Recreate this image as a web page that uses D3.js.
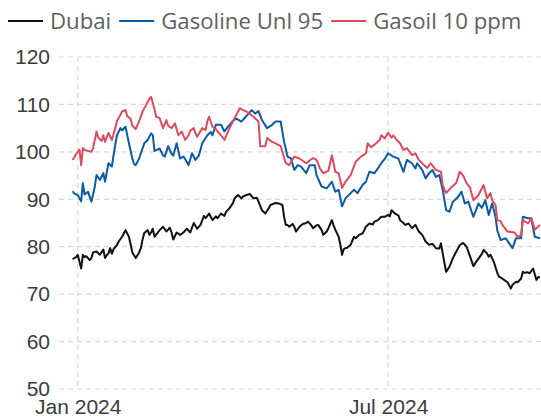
<!DOCTYPE html>
<html>
<head>
<meta charset="utf-8">
<script src="https://cdnjs.cloudflare.com/ajax/libs/d3/7.8.5/d3.min.js"></script>
<style>
  body { margin: 0; background: #fff; }
  svg { display: block; font-family: "Open Sans", "Noto Sans", sans-serif; }
</style>
</head>
<body>
<div class="chart"></div>
<script>

// series data: [date, US$/bbl]
var dubai = [
  ["2023-12-29", 77.4], ["2023-12-31", 77.8], ["2024-01-01", 78.3], ["2024-01-03", 75.4], ["2024-01-04", 78.3],
  ["2024-01-05", 77.8], ["2024-01-06", 78.0], ["2024-01-08", 77.2], ["2024-01-09", 77.6], ["2024-01-10", 78.8],
  ["2024-01-12", 79.0], ["2024-01-14", 78.3], ["2024-01-16", 79.4], ["2024-01-17", 77.6], ["2024-01-18", 78.2],
  ["2024-01-19", 78.6], ["2024-01-20", 79.7], ["2024-01-21", 78.5], ["2024-01-22", 79.5], ["2024-01-24", 80.4],
  ["2024-01-25", 81.1], ["2024-01-27", 82.1], ["2024-01-28", 82.8], ["2024-01-29", 83.5], ["2024-01-31", 82.1],
  ["2024-02-01", 80.5], ["2024-02-02", 78.8], ["2024-02-04", 77.6], ["2024-02-06", 78.8], ["2024-02-07", 79.7],
  ["2024-02-08", 81.5], ["2024-02-09", 82.9], ["2024-02-11", 83.5], ["2024-02-12", 82.5], ["2024-02-13", 83.0],
  ["2024-02-14", 83.8], ["2024-02-15", 82.1], ["2024-02-17", 83.0], ["2024-02-18", 83.5], ["2024-02-20", 84.2],
  ["2024-02-22", 83.2], ["2024-02-24", 84.0], ["2024-02-25", 83.0], ["2024-02-26", 81.5], ["2024-02-28", 83.0],
  ["2024-03-01", 82.5], ["2024-03-03", 83.0], ["2024-03-05", 83.8], ["2024-03-07", 83.0], ["2024-03-09", 85.0],
  ["2024-03-11", 83.8], ["2024-03-13", 84.6], ["2024-03-15", 86.5], ["2024-03-16", 86.0], ["2024-03-18", 87.0],
  ["2024-03-20", 85.6], ["2024-03-22", 86.4], ["2024-03-23", 86.0], ["2024-03-25", 87.0], ["2024-03-27", 86.5],
  ["2024-03-28", 87.4], ["2024-03-30", 88.1], ["2024-04-01", 89.2], ["2024-04-02", 90.2], ["2024-04-04", 90.9],
  ["2024-04-06", 90.2], ["2024-04-07", 90.6], ["2024-04-09", 90.9], ["2024-04-11", 91.1], ["2024-04-13", 90.2],
  ["2024-04-15", 90.3], ["2024-04-16", 89.5], ["2024-04-18", 87.7], ["2024-04-20", 87.0], ["2024-04-22", 88.1],
  ["2024-04-23", 88.8], ["2024-04-25", 89.1], ["2024-04-26", 89.2], ["2024-04-28", 89.1], ["2024-04-30", 88.8],
  ["2024-05-01", 86.3], ["2024-05-02", 84.6], ["2024-05-03", 84.6], ["2024-05-04", 84.2], ["2024-05-06", 84.8],
  ["2024-05-07", 84.2], ["2024-05-08", 83.2], ["2024-05-10", 84.2], ["2024-05-12", 84.8], ["2024-05-14", 85.0],
  ["2024-05-15", 85.3], ["2024-05-17", 84.5], ["2024-05-18", 83.9], ["2024-05-20", 84.5], ["2024-05-21", 84.6],
  ["2024-05-23", 83.5], ["2024-05-24", 82.5], ["2024-05-26", 83.2], ["2024-05-27", 83.9], ["2024-05-29", 85.6],
  ["2024-05-30", 84.5], ["2024-05-31", 83.6], ["2024-06-02", 82.1], ["2024-06-03", 80.4], ["2024-06-04", 78.3],
  ["2024-06-05", 79.5], ["2024-06-06", 79.7], ["2024-06-07", 79.8], ["2024-06-09", 80.4], ["2024-06-11", 82.1],
  ["2024-06-12", 81.8], ["2024-06-14", 82.5], ["2024-06-16", 82.8], ["2024-06-17", 83.5], ["2024-06-18", 84.2],
  ["2024-06-20", 84.9], ["2024-06-22", 84.7], ["2024-06-23", 85.3], ["2024-06-25", 85.6], ["2024-06-27", 86.3],
  ["2024-06-29", 86.3], ["2024-07-01", 86.7], ["2024-07-02", 86.4], ["2024-07-03", 87.7], ["2024-07-05", 87.0],
  ["2024-07-07", 86.6], ["2024-07-08", 85.6], ["2024-07-10", 85.0], ["2024-07-11", 84.6], ["2024-07-13", 84.9],
  ["2024-07-15", 83.9], ["2024-07-17", 84.6], ["2024-07-19", 83.2], ["2024-07-21", 82.5], ["2024-07-23", 81.1],
  ["2024-07-25", 80.4], ["2024-07-27", 80.6], ["2024-07-29", 79.7], ["2024-07-31", 79.6], ["2024-08-01", 80.7],
  ["2024-08-02", 78.6], ["2024-08-04", 74.7], ["2024-08-06", 75.8], ["2024-08-08", 77.6], ["2024-08-10", 79.0],
  ["2024-08-12", 80.3], ["2024-08-14", 80.8], ["2024-08-16", 80.0], ["2024-08-18", 78.0], ["2024-08-20", 75.9],
  ["2024-08-22", 77.0], ["2024-08-23", 77.5], ["2024-08-25", 78.5], ["2024-08-26", 79.3], ["2024-08-28", 78.6],
  ["2024-08-29", 77.9], ["2024-08-30", 78.3], ["2024-09-01", 76.8], ["2024-09-03", 74.5], ["2024-09-04", 73.7],
  ["2024-09-05", 73.5], ["2024-09-07", 73.0], ["2024-09-09", 72.5], ["2024-09-11", 71.2], ["2024-09-12", 72.0],
  ["2024-09-14", 72.6], ["2024-09-15", 72.5], ["2024-09-17", 73.3], ["2024-09-18", 74.7], ["2024-09-19", 74.5],
  ["2024-09-21", 74.6], ["2024-09-22", 74.4], ["2024-09-24", 75.4], ["2024-09-26", 73.0], ["2024-09-27", 73.6],
  ["2024-09-28", 73.5]
];

var gasoline = [
  ["2023-12-29", 91.7], ["2023-12-30", 91.2], ["2024-01-01", 90.9], ["2024-01-03", 89.6], ["2024-01-04", 93.4],
  ["2024-01-05", 91.0], ["2024-01-07", 91.6], ["2024-01-09", 89.5], ["2024-01-10", 91.0], ["2024-01-11", 92.7],
  ["2024-01-12", 95.1], ["2024-01-14", 94.1], ["2024-01-16", 95.5], ["2024-01-17", 93.7], ["2024-01-19", 97.6],
  ["2024-01-21", 96.9], ["2024-01-22", 99.3], ["2024-01-23", 101.5], ["2024-01-24", 103.5], ["2024-01-26", 105.0],
  ["2024-01-27", 104.5], ["2024-01-29", 105.3], ["2024-01-31", 101.8], ["2024-02-02", 98.6], ["2024-02-03", 97.5],
  ["2024-02-04", 97.2], ["2024-02-06", 98.6], ["2024-02-07", 99.7], ["2024-02-09", 101.8], ["2024-02-11", 102.5],
  ["2024-02-13", 103.9], ["2024-02-14", 103.5], ["2024-02-15", 100.2], ["2024-02-18", 100.7], ["2024-02-20", 99.3],
  ["2024-02-21", 99.0], ["2024-02-23", 101.2], ["2024-02-25", 99.6], ["2024-02-26", 99.2], ["2024-02-28", 101.8],
  ["2024-03-01", 98.6], ["2024-03-03", 99.0], ["2024-03-04", 98.5], ["2024-03-06", 97.2], ["2024-03-08", 99.7],
  ["2024-03-10", 98.3], ["2024-03-12", 99.2], ["2024-03-14", 101.8], ["2024-03-17", 103.5], ["2024-03-19", 104.2],
  ["2024-03-20", 103.5], ["2024-03-22", 105.7], ["2024-03-25", 105.7], ["2024-03-27", 104.3], ["2024-03-30", 105.7],
  ["2024-04-01", 106.5], ["2024-04-03", 107.0], ["2024-04-06", 106.4], ["2024-04-08", 107.2], ["2024-04-10", 108.0],
  ["2024-04-12", 108.8], ["2024-04-14", 108.1], ["2024-04-16", 108.6], ["2024-04-18", 106.7], ["2024-04-21", 105.0],
  ["2024-04-24", 105.7], ["2024-04-26", 106.4], ["2024-04-29", 106.4], ["2024-05-01", 102.1], ["2024-05-03", 99.0],
  ["2024-05-05", 98.6], ["2024-05-07", 96.2], ["2024-05-09", 97.2], ["2024-05-11", 96.9], ["2024-05-14", 95.5],
  ["2024-05-16", 97.2], ["2024-05-19", 97.2], ["2024-05-20", 95.1], ["2024-05-23", 92.7], ["2024-05-26", 92.3],
  ["2024-05-29", 93.7], ["2024-05-31", 91.6], ["2024-06-02", 92.0], ["2024-06-04", 88.5], ["2024-06-06", 90.2],
  ["2024-06-09", 91.3], ["2024-06-11", 92.0], ["2024-06-13", 91.3], ["2024-06-16", 93.0], ["2024-06-18", 93.7],
  ["2024-06-20", 95.8], ["2024-06-23", 95.5], ["2024-06-25", 96.5], ["2024-06-27", 97.6], ["2024-06-29", 98.5],
  ["2024-07-01", 99.7], ["2024-07-04", 99.0], ["2024-07-07", 98.6], ["2024-07-10", 95.8], ["2024-07-12", 98.3],
  ["2024-07-15", 97.6], ["2024-07-17", 96.5], ["2024-07-18", 97.6], ["2024-07-21", 96.2], ["2024-07-23", 94.4],
  ["2024-07-25", 95.5], ["2024-07-27", 96.2], ["2024-07-29", 94.7], ["2024-07-31", 95.1], ["2024-08-02", 92.0],
  ["2024-08-04", 87.7], ["2024-08-06", 87.4], ["2024-08-08", 89.5], ["2024-08-11", 90.5], ["2024-08-13", 91.6],
  ["2024-08-15", 89.1], ["2024-08-17", 89.5], ["2024-08-20", 86.3], ["2024-08-23", 89.1], ["2024-08-25", 88.2],
  ["2024-08-27", 89.8], ["2024-08-29", 86.7], ["2024-08-31", 89.1], ["2024-09-02", 86.3], ["2024-09-03", 83.5],
  ["2024-09-05", 81.4], ["2024-09-08", 81.8], ["2024-09-10", 80.7], ["2024-09-12", 79.7], ["2024-09-14", 81.8],
  ["2024-09-17", 81.8], ["2024-09-18", 86.3], ["2024-09-21", 86.0], ["2024-09-23", 86.0], ["2024-09-25", 82.1],
  ["2024-09-28", 81.8]
];

var gasoil = [
  ["2023-12-29", 98.3], ["2023-12-31", 99.5], ["2024-01-02", 100.5], ["2024-01-03", 97.2], ["2024-01-04", 100.8],
  ["2024-01-05", 100.4], ["2024-01-07", 100.2], ["2024-01-09", 100.0], ["2024-01-10", 100.8], ["2024-01-12", 104.3],
  ["2024-01-13", 103.0], ["2024-01-15", 102.3], ["2024-01-16", 103.5], ["2024-01-17", 102.1], ["2024-01-19", 104.0],
  ["2024-01-21", 102.5], ["2024-01-23", 105.0], ["2024-01-24", 106.5], ["2024-01-26", 107.8], ["2024-01-27", 108.5],
  ["2024-01-29", 108.8], ["2024-01-30", 107.5], ["2024-02-01", 107.0], ["2024-02-02", 105.5], ["2024-02-04", 104.8],
  ["2024-02-06", 106.5], ["2024-02-08", 108.5], ["2024-02-10", 109.8], ["2024-02-12", 111.2], ["2024-02-13", 111.6],
  ["2024-02-15", 109.0], ["2024-02-16", 107.4], ["2024-02-18", 107.1], ["2024-02-20", 105.0], ["2024-02-22", 106.7],
  ["2024-02-23", 105.5], ["2024-02-25", 105.0], ["2024-02-27", 106.0], ["2024-02-29", 103.5], ["2024-03-02", 104.3],
  ["2024-03-04", 102.5], ["2024-03-06", 103.5], ["2024-03-07", 104.5], ["2024-03-09", 105.0], ["2024-03-10", 104.0],
  ["2024-03-11", 103.2], ["2024-03-14", 105.0], ["2024-03-16", 104.6], ["2024-03-17", 106.5], ["2024-03-18", 107.4],
  ["2024-03-20", 105.3], ["2024-03-22", 104.8], ["2024-03-23", 104.3], ["2024-03-25", 103.5], ["2024-03-27", 102.5],
  ["2024-03-30", 105.0], ["2024-04-02", 107.1], ["2024-04-05", 109.2], ["2024-04-07", 108.8], ["2024-04-09", 108.5],
  ["2024-04-11", 108.0], ["2024-04-13", 107.4], ["2024-04-16", 106.4], ["2024-04-17", 101.2], ["2024-04-20", 101.2],
  ["2024-04-21", 102.9], ["2024-04-24", 102.1], ["2024-04-26", 101.8], ["2024-04-29", 101.2], ["2024-05-02", 97.6],
  ["2024-05-04", 97.2], ["2024-05-07", 99.0], ["2024-05-10", 98.6], ["2024-05-14", 97.6], ["2024-05-16", 98.2],
  ["2024-05-18", 98.7], ["2024-05-20", 98.3], ["2024-05-22", 96.5], ["2024-05-24", 95.5], ["2024-05-27", 96.0],
  ["2024-05-29", 99.3], ["2024-05-31", 95.8], ["2024-06-02", 95.5], ["2024-06-04", 92.4], ["2024-06-06", 93.7],
  ["2024-06-09", 95.1], ["2024-06-12", 97.9], ["2024-06-15", 99.0], ["2024-06-16", 99.2], ["2024-06-18", 99.7],
  ["2024-06-19", 101.8], ["2024-06-21", 101.0], ["2024-06-24", 101.8], ["2024-06-26", 102.5], ["2024-06-27", 103.5],
  ["2024-06-29", 102.8], ["2024-07-01", 104.0], ["2024-07-03", 103.0], ["2024-07-04", 103.5], ["2024-07-06", 102.5],
  ["2024-07-08", 101.8], ["2024-07-10", 100.4], ["2024-07-12", 100.8], ["2024-07-15", 99.3], ["2024-07-17", 99.7],
  ["2024-07-19", 98.3], ["2024-07-22", 97.2], ["2024-07-24", 96.6], ["2024-07-26", 97.6], ["2024-07-29", 96.2],
  ["2024-08-01", 95.8], ["2024-08-02", 93.0], ["2024-08-04", 91.3], ["2024-08-07", 92.5], ["2024-08-10", 93.5],
  ["2024-08-12", 95.8], ["2024-08-14", 95.0], ["2024-08-16", 93.4], ["2024-08-18", 92.5], ["2024-08-20", 89.8],
  ["2024-08-23", 90.9], ["2024-08-26", 93.0], ["2024-08-28", 90.2], ["2024-08-30", 91.3], ["2024-08-31", 89.8],
  ["2024-09-02", 88.8], ["2024-09-03", 85.6], ["2024-09-05", 85.4], ["2024-09-06", 84.6], ["2024-09-09", 83.2],
  ["2024-09-13", 83.0], ["2024-09-15", 82.1], ["2024-09-17", 82.5], ["2024-09-18", 85.6], ["2024-09-21", 84.9],
  ["2024-09-23", 86.0], ["2024-09-25", 83.6], ["2024-09-28", 84.6]
];

var seriesNames = ["Dubai", "Gasoline Unl 95", "Gasoil 10 ppm"];
var seriesColors = ["#111111", "#0b5aa6", "#e04a5c"];
var yTicks = [50, 60, 70, 80, 90, 100, 110, 120];
var xTicks = ["2024-01-01", "2024-07-01"];

var svgWidth = 541;
var svgHeight = 418;

var margin = { top: 57, right: -4, bottom: 29, left: 59 };
var width = svgWidth - margin.left - margin.right;
var height = svgHeight - margin.top - margin.bottom;

var parseDate = d3.timeParse("%Y-%m-%d");

var svg = d3.select(".chart")
  .append("svg")
  .attr("width", svgWidth)
  .attr("height", svgHeight);

var chartGroup = svg.append("g")
  .attr("transform", `translate(${margin.left}, ${margin.top})`);

// scales
var xScale = d3.scaleTime()
  .domain([parseDate("2023-12-21"), parseDate("2024-10-01")])
  .range([0, width]);

var yScale = d3.scaleLinear()
  .domain([50, 120])
  .range([height, 0]);

// dashed grid
chartGroup.append("g")
  .selectAll("line")
  .data(yTicks)
  .enter()
  .append("line")
  .attr("x1", 0)
  .attr("x2", width)
  .attr("y1", d => yScale(d))
  .attr("y2", d => yScale(d))
  .attr("stroke", "#d9d9d9")
  .attr("stroke-width", 1.2)
  .attr("stroke-dasharray", "5,4");

chartGroup.append("g")
  .selectAll("line")
  .data(xTicks)
  .enter()
  .append("line")
  .attr("x1", d => xScale(parseDate(d)))
  .attr("x2", d => xScale(parseDate(d)))
  .attr("y1", 0)
  .attr("y2", height)
  .attr("stroke", "#d9d9d9")
  .attr("stroke-width", 1.2)
  .attr("stroke-dasharray", "5,4");

// axes (labels only)
var leftAxis = d3.axisLeft(yScale)
  .tickValues(yTicks)
  .tickSize(0)
  .tickPadding(9);

var bottomAxis = d3.axisBottom(xScale)
  .tickValues(xTicks.map(parseDate))
  .tickFormat(d3.timeFormat("%b %Y"))
  .tickSize(0)
  .tickPadding(10);

var yAxis = chartGroup.append("g").call(leftAxis);
var xAxis = chartGroup.append("g")
  .attr("transform", `translate(0, ${height})`)
  .call(bottomAxis);

[yAxis, xAxis].forEach(function(ax) {
  ax.select(".domain").remove();
  ax.selectAll("text")
    .attr("fill", "#3b3b3b")
    .style("font-size", "21px");
});

// lines
var line = d3.line()
  .x(d => xScale(parseDate(d[0])))
  .y(d => yScale(d[1]));

[dubai, gasoline, gasoil].forEach(function(series, i) {
  chartGroup.append("path")
    .datum(series)
    .attr("d", line)
    .attr("fill", "none")
    .attr("stroke", seriesColors[i])
    .attr("stroke-width", 2)
    .attr("stroke-linejoin", "round");
});

// legend
var legend = svg.append("g").attr("transform", "translate(8, 21)");
var lx = 0;
seriesNames.forEach(function(name, i) {
  legend.append("line")
    .attr("x1", lx)
    .attr("x2", lx + 35)
    .attr("y1", 0)
    .attr("y2", 0)
    .attr("stroke", seriesColors[i])
    .attr("stroke-width", 2);
  var t = legend.append("text")
    .attr("x", lx + 42)
    .attr("y", 0)
    .attr("dy", "0.35em")
    .attr("fill", "#5f5f5f")
    .style("font-size", "22.2px")
    .text(name);
  lx += 42 + t.node().getComputedTextLength() + 8;
});

</script>
</body>
</html>
